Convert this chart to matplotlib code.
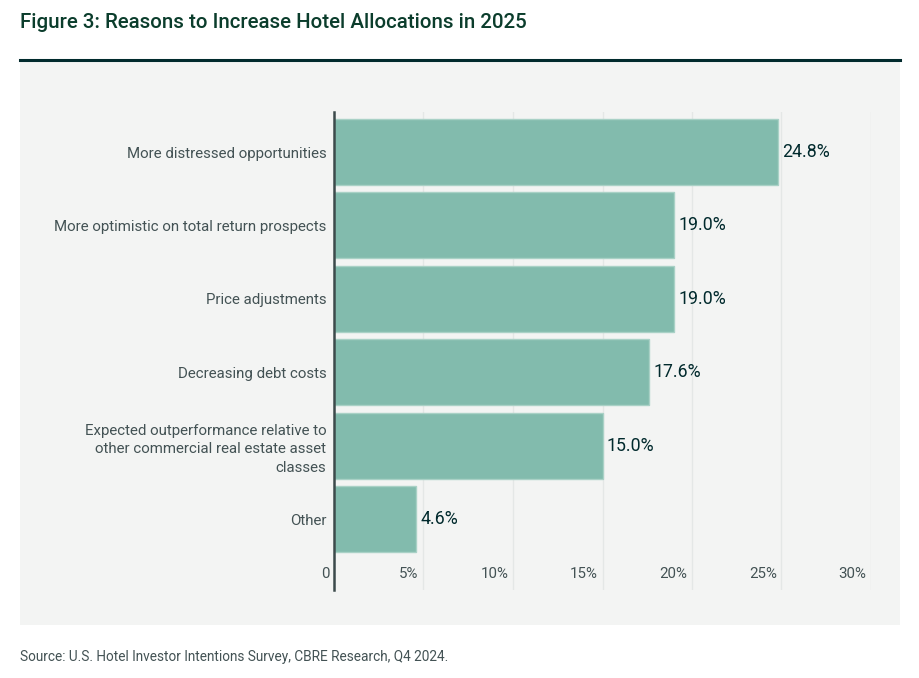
import matplotlib.pyplot as plt
from matplotlib.patches import Rectangle
from matplotlib.lines import Line2D

# ─── Data ────────────────────────────────────────────────────────────────────
categories = [
    "More distressed opportunities",
    "More optimistic on total return prospects",
    "Price adjustments",
    "Decreasing debt costs",
    "Expected outperformance relative to\nother commercial real estate asset\nclasses",
    "Other",
]
values = [24.8, 19.0, 19.0, 17.6, 15.0, 4.6]
x_ticks = [0, 5, 10, 15, 20, 25, 30]
x_tick_labels = ["0", "5%", "10%", "15%", "20%", "25%", "30%"]

TITLE = "Figure 3: Reasons to Increase Hotel Allocations in 2025"
SOURCE = "Source: U.S. Hotel Investor Intentions Survey, CBRE Research, Q4 2024."

# ─── Style ───────────────────────────────────────────────────────────────────
plt.rcParams["font.family"] = ["Roboto", "DejaVu Sans"]
BAR = "#82bbad"
BAR_EDGE = "#a9d1c6"
PANEL = "#f3f4f3"
DARK = "#012a2d"
GREEN = "#0b3d2c"
LABEL = "#435254"
GRID = "#e4e7e6"

W, H = 920, 678
fig = plt.figure(figsize=(W / 100, H / 100), dpi=100)
fig.patch.set_facecolor("white")

# title, rule and grey panel
fig.text(20 / W, 1 - 22 / H, TITLE, fontsize=14.8, fontweight="medium",
         color=GREEN, va="center", ha="left")
fig.add_artist(Line2D([20 / W, 900 / W], [1 - 60 / H, 1 - 60 / H],
                      color=DARK, lw=2.2))
fig.add_artist(Rectangle((20 / W, 1 - 625 / H), 880 / W, 563 / H,
                         transform=fig.transFigure, facecolor=PANEL,
                         edgecolor="none", zorder=0))

# ─── Axes ────────────────────────────────────────────────────────────────────
ax = fig.add_axes([334 / W, 1 - 590 / H, (871 - 334) / W, (590 - 112) / H])
ax.set_facecolor("none")

y = list(range(len(categories)))
bars = ax.barh(y, values, height=0.9, color=BAR, edgecolor=BAR_EDGE,
               linewidth=1, zorder=3)

ax.set_xlim(0, 30)
ax.set_ylim(len(categories) - 1 + 0.967, -0.545)

ax.set_yticks(y)
ax.set_yticklabels(categories, fontsize=10.8, color=LABEL, linespacing=1.4)
ax.tick_params(axis="y", length=0, pad=5.5)

ax.set_xticks(x_ticks)
ax.set_xticklabels([])
ax.tick_params(axis="x", length=0)
ax.grid(axis="x", color=GRID, lw=1, zorder=0)

# tick labels sit inside the plot, right-aligned just left of each gridline
for t, lab in zip(x_ticks, x_tick_labels):
    ax.annotate(lab, (t, len(categories) - 1 + 0.75), xytext=(-3.5, 0),
                textcoords="offset points", ha="right", va="center",
                fontsize=10.8, color=LABEL)

for b, v in zip(bars, values):
    ax.annotate(f"{v:.1f}%", (v, b.get_y() + b.get_height() / 2),
                xytext=(3, 0), textcoords="offset points", ha="left",
                va="center", fontsize=12.8, color=DARK)

for s in ["top", "right", "bottom"]:
    ax.spines[s].set_visible(False)
ax.spines["left"].set_color("#3c4a4b")
ax.spines["left"].set_linewidth(1.8)
ax.spines["left"].set_zorder(4)

fig.text(20 / W, 1 - 657 / H, SOURCE, fontsize=9.8, color=LABEL,
         va="center", ha="left")

plt.savefig("out.png", dpi=100, facecolor="white")
